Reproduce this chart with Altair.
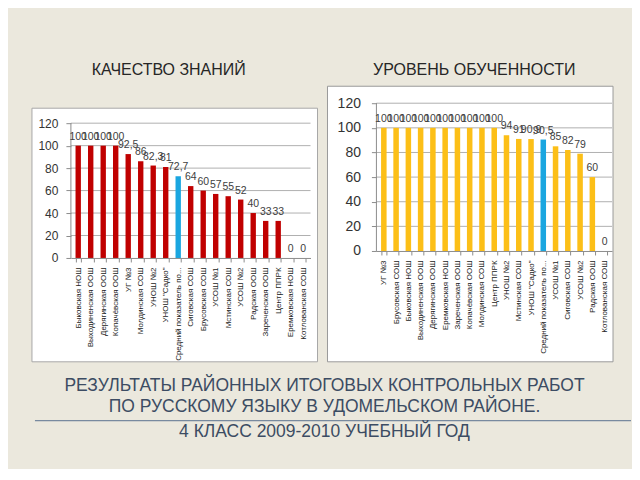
import altair as alt
import pandas as pd

AVG = "Средний показатель по..."

L_CATS = ["Быковская  НОШ", "Выходиненская  ООШ", "Дерягинская  ООШ", "Копачёвская  ООШ",
          "УГ №3", "Молдинская  СОШ", "УНОШ №2", "УНОШ \"Садко\"", AVG,
          "Сиговская  СОШ", "Брусовская  СОШ", "УСОШ №1", "Мстинская  СОШ", "УСОШ №2",
          "Радская  ООШ", "Зареченская  ООШ", "Центр ППРК", "Еремковская  НОШ", "Котлованская  СОШ"]
L_VALS = [100, 100, 100, 100, 92.5, 86, 82.3, 81, 72.7, 64, 60, 57, 55, 52, 40, 33, 33, 0, 0]

R_CATS = ["УГ №3", "Брусовская  СОШ", "Быковская  НОШ", "Выходиненская  ООШ", "Дерягинская  ООШ",
          "Еремковская  НОШ", "Зареченская  ООШ", "Копачёвская  ООШ", "Молдинская  СОШ", "Центр ППРК",
          "УНОШ №2", "Мстинская  СОШ", "УНОШ \"Садко\"", AVG, "УСОШ №1", "Сиговская  СОШ",
          "УСОШ №2", "Радская  ООШ", "Котлованская  СОШ"]
R_VALS = [100, 100, 100, 100, 100, 100, 100, 100, 100, 100, 94, 91, 90.9, 90.5, 85, 82, 79, 60, 0]

Y_TICKS = [0, 20, 40, 60, 80, 100, 120]
GRID = [20, 40, 60, 80, 100, 120]
TITLES = ["КАЧЕСТВО ЗНАНИЙ", "УРОВЕНЬ ОБУЧЕННОСТИ"]
FOOTER = ["РЕЗУЛЬТАТЫ РАЙОННЫХ ИТОГОВЫХ КОНТРОЛЬНЫХ РАБОТ",
          "ПО РУССКОМУ ЯЗЫКУ В УДОМЕЛЬСКОМ РАЙОНЕ.",
          "4 КЛАСС 2009-2010 УЧЕБНЫЙ ГОД"]

BG = "#ebe8dd"
NARROW = "Liberation Sans Narrow, Liberation Sans, sans-serif"
one = pd.DataFrame({"k": [0]})


def rect(x, x2, y, y2, fill, stroke=None):
    kw = dict(fill=fill)
    if stroke:
        kw.update(stroke=stroke, strokeWidth=1)
    return alt.Chart(one).mark_rect(**kw).encode(
        x=alt.value(x), x2=alt.value(x2), y=alt.value(y), y2=alt.value(y2))


def text_at(t, x, y, size, color):
    return alt.Chart(pd.DataFrame({"t": [t]})).mark_text(
        font=NARROW, fontSize=size, color=color, align="center", baseline="middle"
    ).encode(text="t:N", x=alt.value(x), y=alt.value(y))


def panel(cats, vals, title, bar_color, w, h, ymax, g, extra=()):
    df = pd.DataFrame({"cat": cats, "val": vals})
    gdf = pd.DataFrame({"val": GRID})
    xenc = alt.X("cat:N", sort=cats, title=None,
                 scale=alt.Scale(paddingInner=g["pi"], paddingOuter=g["po"]),
                 axis=alt.Axis(labelAngle=-90, labelFontSize=g["xfs"], labelColor="#1a1a1a",
                               labelFont=NARROW, domainColor="#8c8c8c", tickColor="#8c8c8c",
                               tickBand="extent", tickSize=4, labelPadding=5, labelLimit=200,
                               labelOverlap=False, zindex=1))
    yscale = alt.Scale(domain=[0, ymax], nice=False)
    yaxis = alt.Axis(values=Y_TICKS, grid=False, domain=False, tickColor="#8c8c8c",
                     tickSize=5, labelPadding=g["ylp"], labelFontSize=g["yfs"],
                     labelColor="#333333", labelFont="Liberation Sans", labelOverlap=False,
                     labelFlush=False, zindex=1)
    yenc = alt.Y("val:Q", scale=yscale, title=None, axis=yaxis)

    filler = rect(*g["filler"], BG)
    box = rect(*g["panel"], "#ffffff", g.get("stroke"))
    ttl = text_at(title, g["title"][0], g["title"][1], 16, "#262626")
    grid = alt.Chart(gdf).mark_rule(color="#b0b0b0", strokeWidth=1).encode(y=yenc)
    yline = alt.Chart(one).mark_rule(color="#8c8c8c", strokeWidth=1).encode(
        x=alt.value(0),
        y=alt.Y(datum=0, scale=yscale, axis=yaxis, title=None),
        y2=alt.Y2(datum=Y_TICKS[-1]))
    bars = alt.Chart(df).mark_bar().encode(
        x=xenc, y=yenc,
        color=alt.condition(alt.datum.cat == AVG, alt.value("#1aa6e0"), alt.value(bar_color)))
    labels = alt.Chart(df).transform_calculate(
        lab="replace(toString(datum.val), '.', ',')"
    ).mark_text(font=NARROW, fontSize=g["vfs"], color="#404040", baseline="bottom", dy=-4).encode(
        x=xenc, y=yenc, text="lab:N")
    return alt.layer(filler, box, ttl, grid, yline, bars, labels, *extra).properties(
        width=w, height=h)


# footer (positions relative to the right plot origin; drawn last)
footer = [alt.Chart(one).mark_rule(color="#5a7190", strokeWidth=1).encode(
    x=alt.value(-342), x2=alt.value(255), y=alt.value(318))]
for i, yy in enumerate([283, 304, 329]):
    footer.append(text_at(FOOTER[i], -52, yy, 17.5, "#3c4c63"))

left = panel(L_CATS, L_VALS, TITLES[0], "#c00000", 240, 155, 120 * 155 / 135, dict(
    pi=0.57, po=0.37, xfs=8, yfs=12, ylp=8, vfs=10.5,
    filler=(-63, 249, -95, 366), panel=(-39, 247, 5, 259), stroke="#a8a8a8",
    title=(98, -33)))

right = panel(R_CATS, R_VALS, TITLES[1], "#fcbf17", 236, 148, 120, dict(
    pi=0.55, po=0.38, xfs=8, yfs=14, ylp=11, vfs=10.5,
    filler=(-57, 255, -95, 366), panel=(-49, 237, -17, 259), stroke="#9a9a9a",
    title=(98, -33)), extra=footer)

chart = alt.hconcat(left, right, spacing=66, bounds="flush").properties(
    background=BG, padding=0).configure_view(strokeWidth=0)

chart.save("out.html", embed_options={"renderer": "svg", "actions": False})
